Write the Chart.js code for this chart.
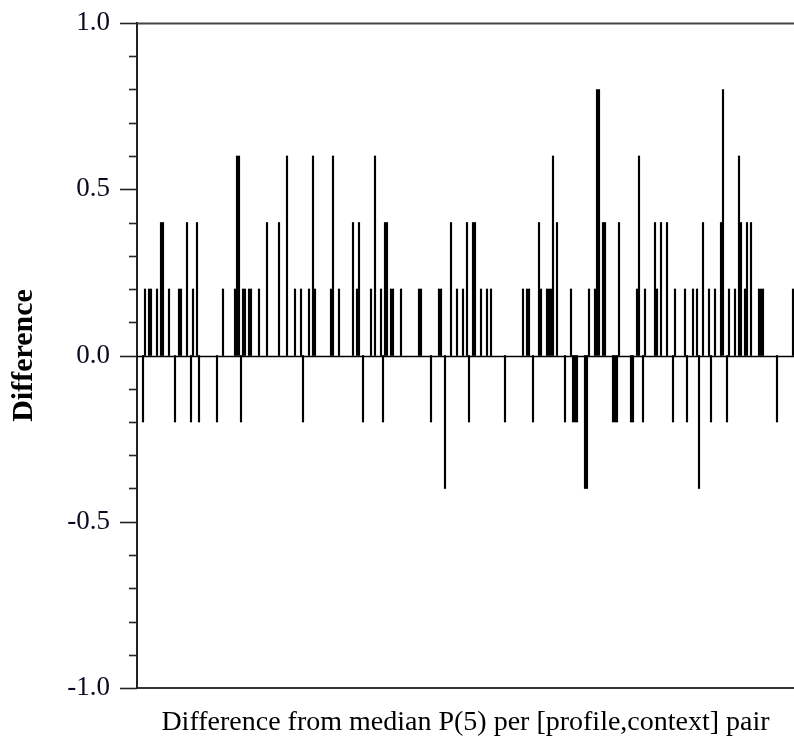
<!DOCTYPE html>
<html>
<head>
<meta charset="utf-8">
<script src="https://cdn.jsdelivr.net/npm/chart.js@4/dist/chart.umd.min.js"></script>
<style>
  html, body { margin: 0; padding: 0; background: #fff; }
  #wrap { width: 794px; height: 744px; }
</style>
</head>
<body>
<div id="wrap"><canvas id="c" width="794" height="744"></canvas></div>
<script>
// [profile,context] pair index (position along the x axis)
const pairIndex = [
  3, 4, 6, 7, 10, 12, 13, 16, 19, 21, 22, 25, 27, 28, 30, 31, 40, 43, 49, 50,
  51, 52, 53, 54, 56, 57, 61, 65, 71, 75, 79, 82, 83, 86, 88, 89, 97, 98, 101, 108,
  110, 111, 113, 117, 119, 122, 123, 124, 125, 127, 128, 132, 141, 142, 147, 151, 152, 154, 157, 160,
  163, 165, 166, 168, 169, 172, 175, 177, 184, 193, 195, 196, 198, 201, 202, 205, 206, 207, 208, 210,
  214, 217, 218, 219, 220, 224, 225, 226, 229, 230, 231, 233, 234, 238, 239, 240, 241, 247, 248, 250,
  251, 253, 254, 259, 260, 262, 265, 268, 269, 274, 275, 278, 280, 281, 283, 286, 287, 289, 292, 293,
  295, 296, 299, 301, 302, 304, 305, 307, 311, 312, 313, 320, 328
];
// Difference from median P(5) for each pair
const diffValues = [
  -0.2, 0.2, 0.2, 0.2, 0.2, 0.4, 0.4, 0.2, -0.2, 0.2, 0.2, 0.4, -0.2, 0.2, 0.4, -0.2, -0.2, 0.2, 0.2, 0.6,
  0.6, -0.2, 0.2, 0.2, 0.2, 0.2, 0.2, 0.4, 0.4, 0.6, 0.2, 0.2, -0.2, 0.2, 0.6, 0.2, 0.2, 0.6, 0.2, 0.4,
  0.2, 0.4, -0.2, 0.2, 0.6, 0.2, -0.2, 0.4, 0.4, 0.2, 0.2, 0.2, 0.2, 0.2, -0.2, 0.2, 0.2, -0.4, 0.4, 0.2,
  0.2, 0.4, -0.2, 0.4, 0.4, 0.2, 0.2, 0.2, -0.2, 0.2, 0.2, 0.2, -0.2, 0.4, 0.2, 0.2, 0.2, 0.2, 0.6, 0.4,
  -0.2, 0.2, -0.2, -0.2, -0.2, -0.4, -0.4, 0.2, 0.2, 0.8, 0.8, 0.4, 0.4, -0.2, -0.2, -0.2, 0.4, -0.2, -0.2, 0.2,
  0.6, -0.2, 0.2, 0.4, 0.2, 0.4, 0.4, -0.2, 0.2, 0.2, -0.2, 0.2, 0.2, -0.4, 0.4, 0.2, -0.2, 0.2, 0.4, 0.8,
  -0.2, 0.2, 0.2, 0.6, 0.4, 0.2, 0.4, 0.4, 0.2, 0.2, 0.2, -0.2, 0.2
];
const xRange = [0, 328.5];
const yRange = [-1, 1];
const yLabelStep = 0.5;
const yMinorStep = 0.1;
const xTitle = 'Difference from median P(5) per [profile,context] pair';
const yTitle = 'Difference';

const SERIF = "'Liberation Serif', 'DejaVu Serif', serif";

const frame = {
  id: 'frame',
  afterDraw(chart) {
    const ctx = chart.ctx;
    const ys = chart.scales.y;
    const area = chart.chartArea;
    ctx.save();
    ctx.strokeStyle = '#222';
    ctx.lineCap = 'butt';
    // ticks (major long, minor short)
    ys.ticks.forEach(t => {
      const v = t.value;
      const y = Math.round(ys.getPixelForValue(v)) + 0.5;
      const major = Math.abs(v / yLabelStep - Math.round(v / yLabelStep)) < 1e-6;
      const len = major ? 17 : 8;
      ctx.lineWidth = 1.6;
      ctx.beginPath();
      ctx.moveTo(area.left - len, y);
      ctx.lineTo(area.left, y);
      ctx.stroke();
    });
    // zero line and top line across the plot
    [0, yRange[1]].forEach(v => {
      const y = Math.round(ys.getPixelForValue(v)) + 0.5;
      ctx.lineWidth = v === 0 ? 1.6 : 2;
      ctx.strokeStyle = v === 0 ? '#000' : '#444';
      ctx.beginPath();
      ctx.moveTo(area.left, y);
      ctx.lineTo(area.right, y);
      ctx.stroke();
    });
    ctx.restore();
  }
};

new Chart(document.getElementById('c'), {
  type: 'bar',
  data: {
    datasets: [{
      data: pairIndex.map((x, i) => ({ x: x, y: diffValues[i] })),
      backgroundColor: '#000',
      borderWidth: 0,
      barThickness: 1.5
    }]
  },
  options: {
    responsive: false,
    animation: false,
    devicePixelRatio: 1,
    layout: { padding: { top: 23, right: 0, left: 0, bottom: 0 } },
    plugins: { legend: { display: false }, tooltip: { enabled: false } },
    scales: {
      x: {
        type: 'linear',
        offset: false,
        min: xRange[0],
        max: xRange[1],
        ticks: { display: false },
        grid: { display: false, drawTicks: false, offset: false },
        border: { display: true, color: '#333', width: 2 },
        title: {
          display: true,
          text: xTitle,
          color: '#000',
          font: { family: SERIF, size: 28 },
          padding: { top: 0, bottom: 5 }
        },
        afterFit(s) { s.height = 56; s.paddingLeft = 0; s.paddingRight = 0; }
      },
      y: {
        min: yRange[0],
        max: yRange[1],
        ticks: {
          stepSize: yMinorStep,
          autoSkip: false,
          padding: 27,
          color: '#0a0a20',
          font: { family: SERIF, size: 27 },
          callback(v) {
            const r = v / yLabelStep;
            if (Math.abs(r - Math.round(r)) < 1e-6) return (Math.round(r) * yLabelStep).toFixed(1);
            return '';
          }
        },
        grid: { display: false, drawTicks: false },
        border: { display: true, color: '#222', width: 2 },
        title: {
          display: true,
          text: yTitle,
          color: '#000',
          font: { family: SERIF, size: 30, weight: 'bold' },
          padding: { top: 6, bottom: 0 }
        },
        afterFit(s) { s.width = 137; s.paddingTop = 0; s.paddingBottom = 0; }
      }
    }
  },
  plugins: [frame]
});
</script>
</body>
</html>
